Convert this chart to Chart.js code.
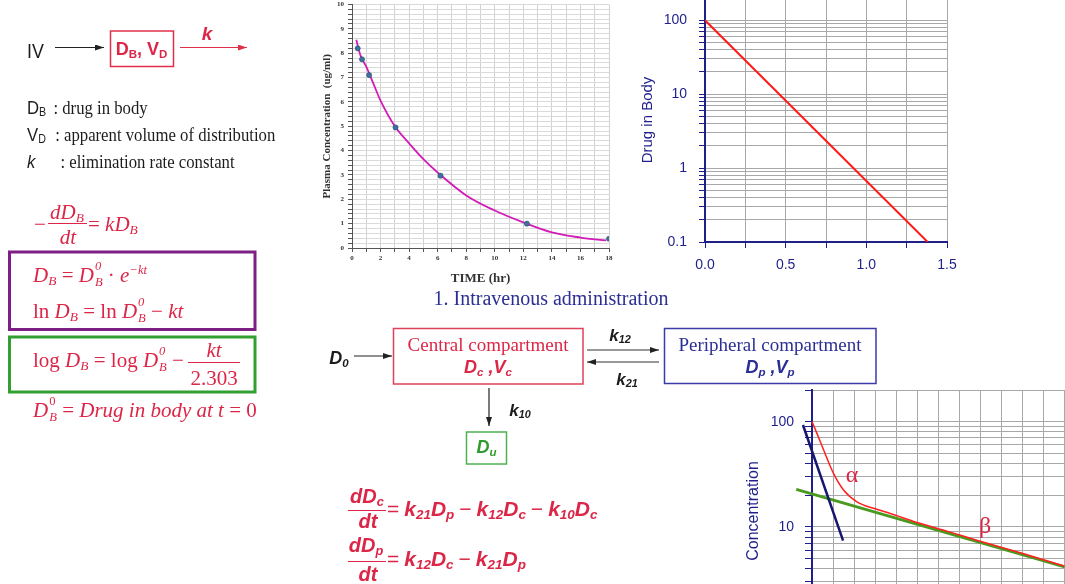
<!DOCTYPE html>
<html>
<head>
<meta charset="utf-8">
<script src="https://cdn.jsdelivr.net/npm/chart.js@4.4.1/dist/chart.umd.min.js"></script>
<style>
  html, body { margin: 0; padding: 0; background: #fff; }
  body { width: 1065px; height: 584px; overflow: hidden; position: relative; }
  canvas { position: absolute; }
  #ov { position: absolute; left: 0; top: 0; pointer-events: none; }
  .t { position: absolute; white-space: nowrap; line-height: 1; }
  .c { transform: translate(-50%, -50%); }
  .l { transform: translateY(-50%); }
  .sans { font-family: "Liberation Sans", Arial, sans-serif; }
  .serif { font-family: "Liberation Serif", "Times New Roman", serif; }
  .b { font-weight: bold; }
  .i { font-style: italic; }
  .n { font-style: normal; }
  .red { color: #dc2647; }
  .navy { color: #2b2f94; }
  .green { color: #2f9a2f; }
  .blk { color: #1c1c1c; }
  .sb { font-size: 0.64em; vertical-align: -0.22em; }
  .sp { font-size: 0.6em; vertical-align: 0.62em; }
  .ss { display: inline-flex; flex-direction: column; font-size: 0.6em; line-height: 1.25; vertical-align: 0.9em; margin-left: 1px; }
  .bar { position: absolute; height: 0; border-top: 1.3px solid #dc2647; }
  .cond { transform: translateY(-50%) scaleX(0.88); transform-origin: left center; }
  .sym { display: inline-block; }
  .op { font-style: normal; font-weight: normal; padding: 0 5px 0 5px; }
</style>
</head>
<body>

<canvas id="plasma" width="310" height="290" style="left:310px;top:0px"></canvas>
<canvas id="body" width="340" height="282" style="left:630px;top:-2px"></canvas>
<canvas id="twoComp" width="335" height="280" style="left:730px;top:385px"></canvas>

<svg id="ov" width="1065" height="584">
  <defs>
    <marker id="ak" markerWidth="9" markerHeight="6" refX="9" refY="3" orient="auto" markerUnits="userSpaceOnUse">
      <path d="M0,0 L9,3 L0,6 z" fill="#222"/>
    </marker>
    <marker id="ar" markerWidth="9" markerHeight="6" refX="9" refY="3" orient="auto" markerUnits="userSpaceOnUse">
      <path d="M0,0 L9,3 L0,6 z" fill="#e0304a"/>
    </marker>
  </defs>
  <line x1="55" y1="47.5" x2="104" y2="47.5" stroke="#222" stroke-width="1.2" marker-end="url(#ak)"/>
  <rect x="110.5" y="31" width="63" height="35.5" fill="none" stroke="#e0304a" stroke-width="1.5"/>
  <line x1="180" y1="47.5" x2="247" y2="47.5" stroke="#e0304a" stroke-width="1.2" marker-end="url(#ar)"/>
  <rect x="9.5" y="252" width="245.5" height="77.5" fill="none" stroke="#7e1f86" stroke-width="3"/>
  <rect x="9.5" y="337" width="245.5" height="55" fill="none" stroke="#31a031" stroke-width="3"/>

  <line x1="354" y1="356" x2="392" y2="356" stroke="#222" stroke-width="1.2" marker-end="url(#ak)"/>
  <rect x="393.5" y="328.5" width="189.5" height="55.5" fill="none" stroke="#e0405a" stroke-width="1.5"/>
  <line x1="587" y1="350" x2="659" y2="350" stroke="#333" stroke-width="1.2" marker-end="url(#ak)"/>
  <line x1="659" y1="362" x2="587" y2="362" stroke="#333" stroke-width="1.2" marker-end="url(#ak)"/>
  <rect x="664.5" y="328.5" width="211.5" height="55" fill="none" stroke="#3b3ba8" stroke-width="1.5"/>
  <line x1="489" y1="388" x2="489" y2="426" stroke="#222" stroke-width="1.2" marker-end="url(#ak)"/>
  <rect x="466.5" y="432" width="40" height="32" fill="none" stroke="#50b050" stroke-width="1.5"/>
</svg>

<!-- one-compartment model -->
<div class="t l sans blk" style="left:27px;top:50px;font-size:21px;transform:translateY(-50%) scaleX(0.85);transform-origin:left center">IV</div>
<div class="t c sans b red" style="left:141.5px;top:50px;font-size:18px">D<span class="sb">B</span>, V<span class="sb">D</span></div>
<div class="t c sans b i red" style="left:207px;top:33px;font-size:19px">k</div>

<div class="t cond serif blk" style="left:27px;top:108px;font-size:19px"><span class="sym sans" style="width:30px">D<span class="sb">B</span></span>: drug in body</div>
<div class="t cond serif blk" style="left:27px;top:135px;font-size:19px"><span class="sym sans" style="width:32px">V<span class="sb">D</span></span>: apparent volume of distribution</div>
<div class="t cond serif blk" style="left:27px;top:161px;font-size:19px"><span class="sym sans i" style="width:38px">k</span>: elimination rate constant</div>

<div class="t c serif red" style="left:40px;top:224px;font-size:21px">−</div>
<div class="t c serif i red" style="left:67px;top:213px;font-size:21px">dD<span class="sb">B</span></div>
<div class="bar" style="left:48px;top:223px;width:39px"></div>
<div class="t c serif i red" style="left:68px;top:237px;font-size:21px">dt</div>
<div class="t l serif i red" style="left:88px;top:225px;font-size:21px"><span class="n">=</span> kD<span class="sb">B</span></div>

<div class="t l serif i red" style="left:33px;top:275px;font-size:21px">D<span class="sb">B</span> <span class="n">=</span> D<span class="ss"><span>0</span><span>B</span></span> <span class="n">·</span> e<span class="sp">−kt</span></div>
<div class="t l serif i red" style="left:33px;top:311px;font-size:21px"><span class="n">ln</span> D<span class="sb">B</span> <span class="n">= ln</span> D<span class="ss"><span>0</span><span>B</span></span> <span class="n">−</span> kt</div>

<div class="t l serif i red" style="left:33px;top:360px;font-size:21px"><span class="n">log</span> D<span class="sb">B</span> <span class="n">= log</span> D<span class="ss"><span>0</span><span>B</span></span> <span class="n">−</span></div>
<div class="t c serif i red" style="left:214px;top:350px;font-size:21px">kt</div>
<div class="bar" style="left:188px;top:362px;width:52px"></div>
<div class="t c serif red" style="left:214px;top:378px;font-size:21px">2.303</div>

<div class="t l serif i red" style="left:33px;top:410px;font-size:21px">D<span class="ss"><span class="n">0</span><span>B</span></span> <span class="n">=</span> Drug in body at t <span class="n">= 0</span></div>

<!-- two-compartment model -->
<div class="t c serif navy" style="left:551px;top:298px;font-size:20px">1. Intravenous administration</div>
<div class="t c sans b i blk" style="left:339px;top:359px;font-size:18px">D<span class="sb">0</span></div>
<div class="t c serif red" style="left:488px;top:344px;font-size:19px">Central compartment</div>
<div class="t c sans b i red" style="left:488px;top:368px;font-size:18px">D<span class="sb">c</span> ,V<span class="sb">c</span></div>
<div class="t c sans b i blk" style="left:620px;top:336px;font-size:17px">k<span class="sb">12</span></div>
<div class="t c sans b i blk" style="left:627px;top:380px;font-size:17px">k<span class="sb">21</span></div>
<div class="t c serif navy" style="left:770px;top:344px;font-size:19px">Peripheral compartment</div>
<div class="t c sans b i navy" style="left:770px;top:368px;font-size:18px">D<span class="sb">p</span> ,V<span class="sb">p</span></div>
<div class="t c sans b i blk" style="left:520px;top:411px;font-size:17px">k<span class="sb">10</span></div>
<div class="t c sans b i green" style="left:486.5px;top:448px;font-size:18px">D<span class="sb">u</span></div>

<div class="t c sans b i red" style="left:367px;top:497px;font-size:20px">dD<span class="sb">c</span></div>
<div class="bar" style="left:348px;top:510px;width:38px;border-top-width:1.6px"></div>
<div class="t c sans b i red" style="left:368px;top:521px;font-size:20px">dt</div>
<div class="t l sans b i red" style="left:387px;top:510px;font-size:21px"><span class="op" style="padding-left:0">=</span>k<span class="sb">21</span>D<span class="sb">p</span><span class="op">−</span>k<span class="sb">12</span>D<span class="sb">c</span><span class="op">−</span>k<span class="sb">10</span>D<span class="sb">c</span></div>

<div class="t c sans b i red" style="left:366px;top:546px;font-size:20px">dD<span class="sb">p</span></div>
<div class="bar" style="left:348px;top:561px;width:38px;border-top-width:1.6px"></div>
<div class="t c sans b i red" style="left:368px;top:574px;font-size:20px">dt</div>
<div class="t l sans b i red" style="left:387px;top:560px;font-size:21px"><span class="op" style="padding-left:0">=</span>k<span class="sb">12</span>D<span class="sb">c</span><span class="op">−</span>k<span class="sb">21</span>D<span class="sb">p</span></div>

<div class="t c serif red" style="left:852px;top:474px;font-size:24px">α</div>
<div class="t c serif red" style="left:985px;top:525px;font-size:24px">β</div>

<script>
// plasma concentration after IV bolus (observed points and fitted curve)
var obsTime = [0.4, 0.7, 1.2, 3.05, 6.2, 12.25, 18];
var obsConc = [8.2, 7.75, 7.1, 4.95, 2.97, 1.0, 0.38];
var fitTime = [0.3, 0.6, 1, 1.5, 2, 3, 4, 5, 6, 8, 10, 12, 14, 16, 17.8];
var fitConc = [8.55, 7.9, 7.45, 6.75, 6.05, 5.0, 4.3, 3.65, 3.1, 2.16, 1.54, 1.05, 0.64, 0.43, 0.31];

// drug in body, semilog
var bodyTime = [0, 1.38];
var bodyDrug = [100, 0.1];

// two-compartment curve with alpha and beta phase lines
var curveTime = [0, 0.24, 0.55, 1.03, 1.5, 2.14, 2.93, 3.73, 5, 6.5, 8, 10, 12];
var curveConc = [100, 77, 54, 32, 22.4, 17.3, 15, 13.4, 11, 9, 7.3, 5.6, 4.25];
var alphaTime = [-0.43, 1.48];
var alphaConc = [93, 7.4];
var betaTime = [-0.75, 12.03];
var betaConc = [22.7, 4.16];

var logLabels = [0.1, 1, 10, 100];

var SANS = '"Liberation Sans", Arial, sans-serif';
var SERIF = '"Liberation Serif", "Times New Roman", serif';
var NAVY = '#1f1f8c';

var pts = function(xs, ys) {
    return xs.map(function(x, i) { return { x: x, y: ys[i] }; });
};

var logTick = function(v) {
    if (logLabels.some(function(l) { return Math.abs(l - v) / l < 1e-6; })) return String(v);
    var p = Math.pow(10, Math.floor(Math.log10(v) + 1e-9));
    var s = v / p;
    return Math.abs(s - Math.round(s)) < 1e-6 ? '' : null;
};

// fixed axis sizes, and no extra room for overhanging tick labels
var fixW = function(w) {
    return function(s) {
        s.width = w;
        s.paddingTop = 0;
        s.paddingBottom = 0;
    };
};
var fixH = function(h) {
    return function(s) {
        s.height = h;
        s.paddingLeft = 0;
        s.paddingRight = 0;
    };
};

var base = {
    responsive: false,
    animation: false,
    plugins: { legend: { display: false }, tooltip: { enabled: false } },
};

// chart 1: plasma concentration vs time
new Chart(document.getElementById('plasma'), {
    type: 'scatter',
    data: {
        datasets: [
            {
                data: pts(obsTime, obsConc),
                pointRadius: 2.6,
                backgroundColor: '#3f6f9c',
                borderColor: '#2a4a6a',
                borderWidth: 0.5,
            },
            {
                type: 'line',
                data: pts(fitTime, fitConc),
                borderColor: '#d31cb5',
                borderWidth: 1.8,
                pointRadius: 0,
                cubicInterpolationMode: 'monotone',
                fill: false,
            },
        ],
    },
    options: Object.assign({}, base, {
        layout: { padding: { left: 7, right: 11, top: 3, bottom: 0 } },
        scales: {
            x: {
                type: 'linear',
                min: 0,
                max: 18,
                afterFit: fixH(42),
                ticks: {
                    stepSize: 1,
                    autoSkip: false,
                    maxRotation: 0,
                    padding: 2,
                    color: '#333',
                    font: { family: SERIF, size: 7, weight: 'bold' },
                    callback: function(v) { return v % 2 === 0 ? v : ''; },
                },
                grid: { color: '#d2d2d2', tickLength: 4, tickColor: '#555' },
                border: { color: '#555', width: 1 },
                title: {
                    display: true,
                    text: 'TIME (hr)',
                    color: '#333',
                    font: { family: SERIF, size: 13, weight: 'bold' },
                },
            },
            y: {
                min: 0,
                max: 10,
                afterFit: fixW(35),
                ticks: {
                    stepSize: 0.2,
                    autoSkip: false,
                    padding: 4,
                    color: '#333',
                    font: { family: SERIF, size: 7, weight: 'bold' },
                    callback: function(v) {
                        return Math.abs(v - Math.round(v)) < 1e-6 ? Math.round(v) : '';
                    },
                },
                grid: { color: '#dadada', tickLength: 4, tickColor: '#555' },
                border: { color: '#555', width: 1 },
                title: {
                    display: true,
                    text: 'Plasma Concentration  (ug/ml)',
                    color: '#333',
                    font: { family: SERIF, size: 11, weight: 'bold' },
                },
            },
        },
    }),
});

// chart 2: drug in body on a log axis
new Chart(document.getElementById('body'), {
    type: 'scatter',
    data: {
        datasets: [
            {
                data: pts(bodyTime, bodyDrug),
                showLine: true,
                borderColor: '#ff1a1a',
                borderWidth: 2,
                pointRadius: 0,
            },
        ],
    },
    options: Object.assign({}, base, {
        layout: { padding: { left: 5, right: 23, top: 0, bottom: 0 } },
        scales: {
            x: {
                type: 'linear',
                min: 0,
                max: 1.5,
                afterFit: fixH(38),
                ticks: {
                    stepSize: 0.25,
                    autoSkip: false,
                    maxRotation: 0,
                    padding: 9,
                    color: NAVY,
                    font: { family: SANS, size: 14 },
                    callback: function(v) {
                        return Math.abs(v * 2 - Math.round(v * 2)) < 1e-6 ? v.toFixed(1) : '';
                    },
                },
                grid: { color: '#a8a8a8', tickLength: 6, tickColor: NAVY },
                border: { color: NAVY, width: 2 },
            },
            y: {
                type: 'logarithmic',
                min: 0.1,
                max: 200,
                afterFit: fixW(70),
                ticks: {
                    autoSkip: false,
                    padding: 12,
                    color: NAVY,
                    font: { family: SANS, size: 14 },
                    callback: logTick,
                },
                grid: { color: '#a8a8a8', tickLength: 6, tickColor: NAVY },
                border: { color: NAVY, width: 2 },
                title: {
                    display: true,
                    text: 'Drug in Body',
                    color: NAVY,
                    font: { family: SANS, size: 15 },
                },
            },
        },
    }),
});

// chart 3: two-compartment decline with alpha / beta phases
new Chart(document.getElementById('twoComp'), {
    type: 'scatter',
    data: {
        datasets: [
            {
                data: pts(curveTime, curveConc),
                showLine: true,
                borderColor: '#ff2020',
                borderWidth: 1.5,
                pointRadius: 0,
                cubicInterpolationMode: 'monotone',
                clip: false,
            },
            {
                data: pts(alphaTime, alphaConc),
                showLine: true,
                borderColor: '#16166e',
                borderWidth: 2.5,
                pointRadius: 0,
                clip: false,
            },
            {
                data: pts(betaTime, betaConc),
                showLine: true,
                borderColor: '#4a9a20',
                borderWidth: 3,
                pointRadius: 0,
                clip: false,
            },
        ],
    },
    options: Object.assign({}, base, {
        layout: { padding: { left: 10, right: 1, top: 5, bottom: 0 } },
        scales: {
            x: {
                type: 'linear',
                min: 0,
                max: 12,
                afterFit: fixH(33),
                ticks: { stepSize: 1, display: false },
                grid: { color: '#a8a8a8', tickLength: 0 },
                border: { color: NAVY, width: 2 },
            },
            y: {
                type: 'logarithmic',
                min: 1,
                max: 200,
                afterFit: fixW(72),
                ticks: {
                    autoSkip: false,
                    padding: 11,
                    color: NAVY,
                    font: { family: SANS, size: 14 },
                    callback: logTick,
                },
                grid: { color: '#a8a8a8', tickLength: 7, tickColor: NAVY },
                border: { color: NAVY, width: 2 },
                title: {
                    display: true,
                    text: 'Concentration',
                    color: NAVY,
                    font: { family: SANS, size: 16 },
                },
            },
        },
    }),
});
</script>
</body>
</html>
